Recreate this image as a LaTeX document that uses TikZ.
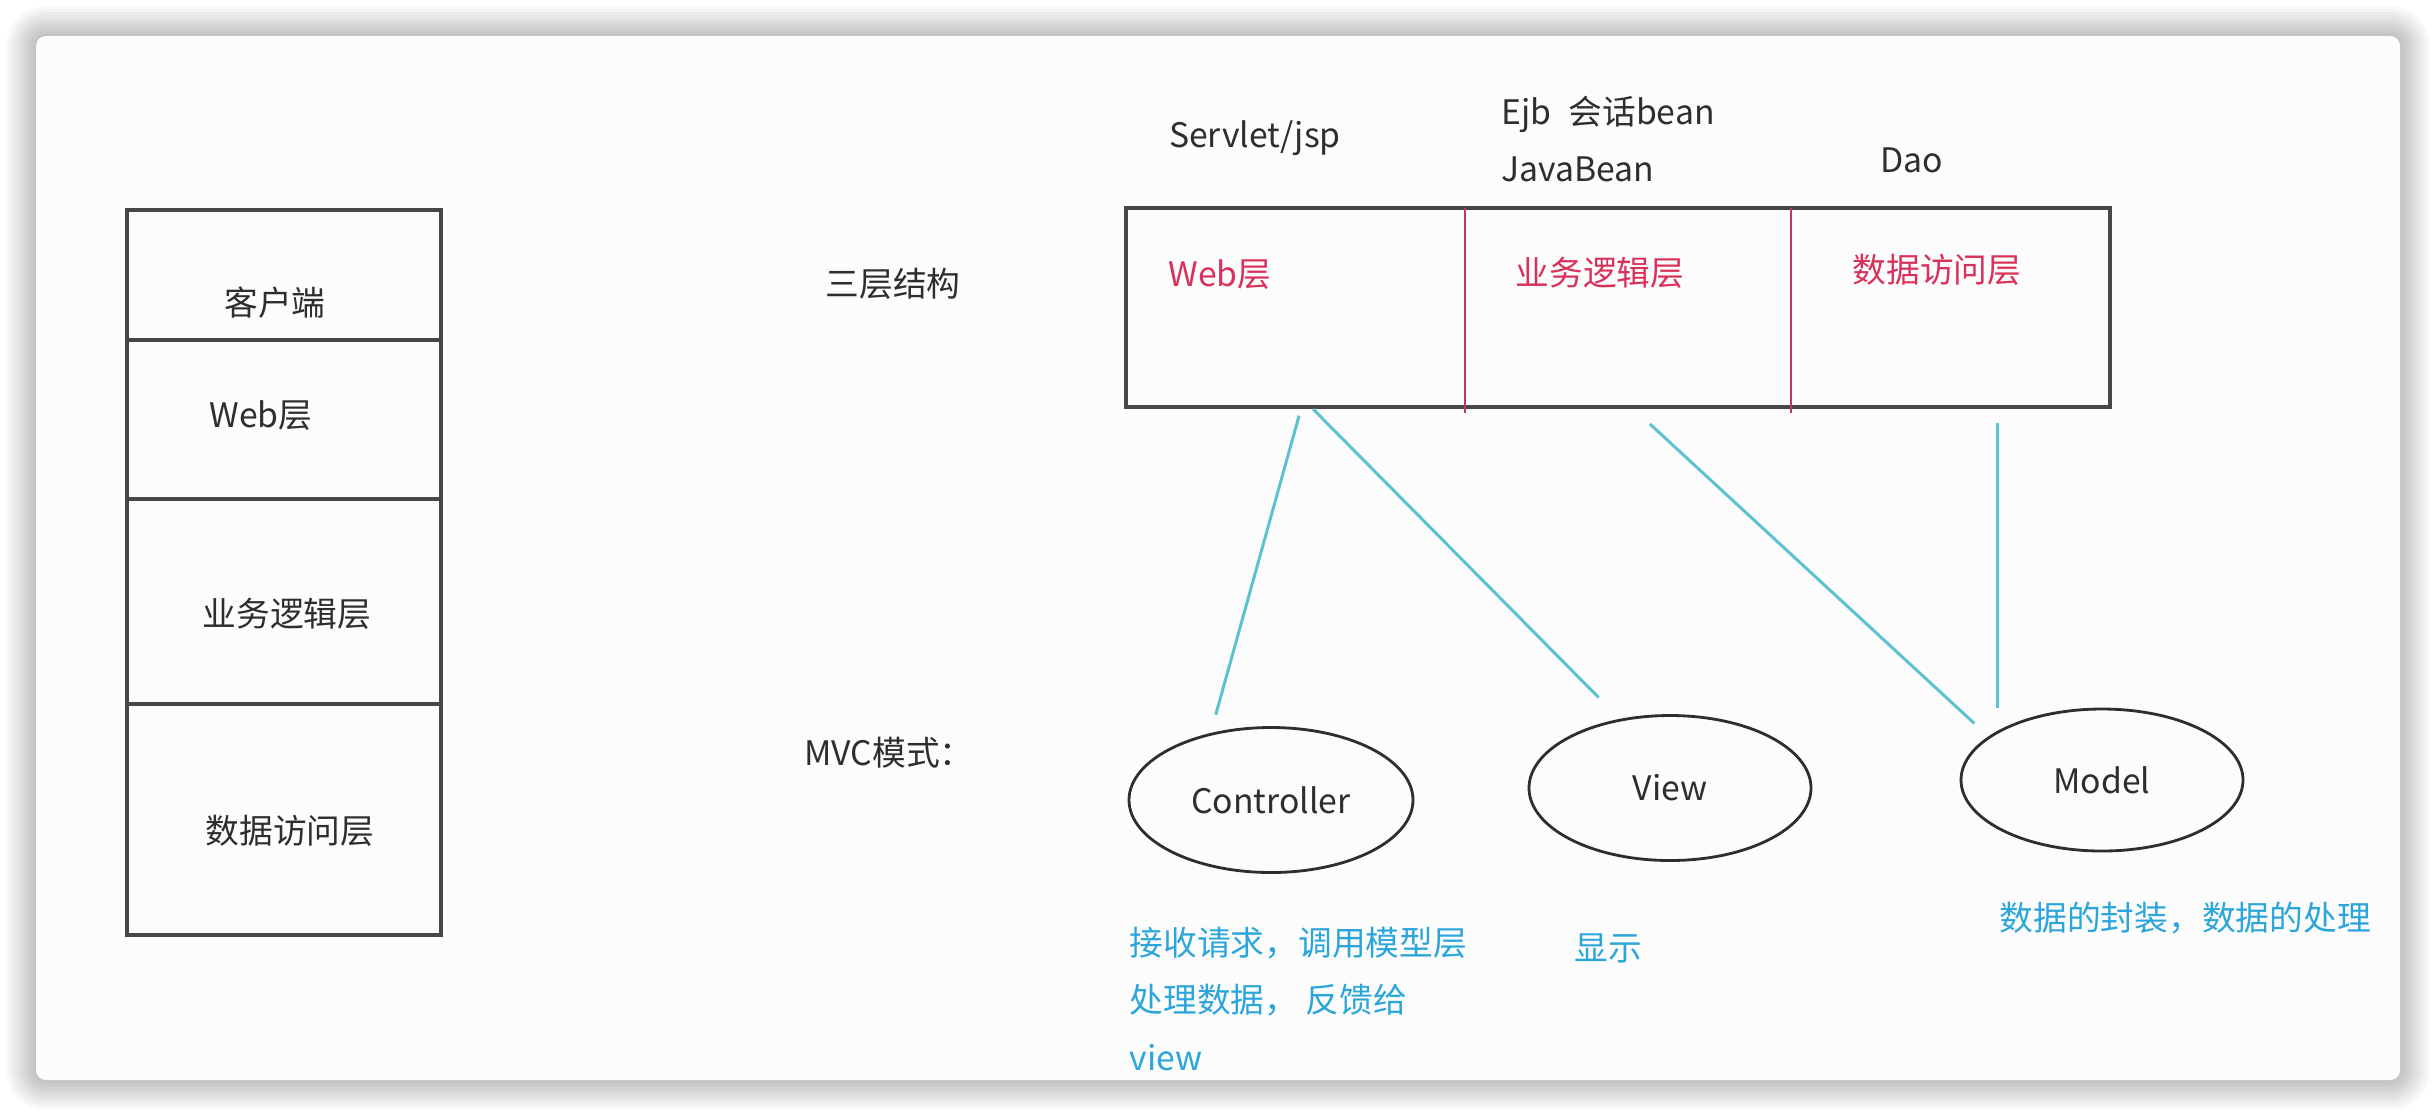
\documentclass[tikz,border=0pt]{standalone}
\usepackage{fontspec}
\setmainfont{Noto Sans CJK SC}
\usetikzlibrary{positioning, calc, shapes.geometric}

\definecolor{ink}{HTML}{2E2E2E}
\definecolor{frame}{HTML}{474747}
\definecolor{layerred}{HTML}{D8325A}
\definecolor{divred}{HTML}{B83A5C}
\definecolor{linkcyan}{HTML}{5CC2D2}
\definecolor{notecyan}{HTML}{2CA6DA}
\definecolor{card}{HTML}{FCFCFC}

\begin{document}
\begin{tikzpicture}[
  font=\fontsize{9.6}{16.4}\selectfont,
  text=ink,
  cell/.style={draw=frame, line width=0.9pt, minimum width=3.14cm,
               inner sep=0pt, outer sep=0pt},
  tiercell/.style={minimum height=1.99cm, inner sep=0pt, outer sep=0pt},
  role/.style={ellipse, draw=ink, line width=0.8pt, inner sep=0pt,
               minimum width=2.84cm, minimum height=1.45cm},
  redtxt/.style={text=layerred},
  note/.style={text=notecyan, align=left, inner sep=0pt, anchor=west},
  link/.style={draw=linkcyan, line width=0.85pt},
]
%% page, shadow and card
\useasboundingbox (0,0) rectangle (24.36,-11.16);
\fill[white] (0,0) rectangle (24.36,-11.16);
\foreach \i [evaluate=\i as \d using 0.03*\i,
             evaluate=\i as \r using 0.1+0.03*\i] in {1,...,10}
  \fill[black, opacity=0.022, rounded corners=\r cm]
    (0.36-\d,-0.36+\d) rectangle (24.00+\d,-10.80-\d);
\fill[card, rounded corners=0.1cm] (0.36,-0.36) rectangle (24.00,-10.80);

%% left stack of layers
\node[cell, minimum height=1.30cm, anchor=north] (client) at (2.84,-2.10) {};
\node[cell, minimum height=1.59cm, below=0pt of client] (web) {};
\node[cell, minimum height=2.05cm, below=0pt of web] (biz) {};
\node[cell, minimum height=2.31cm, below=0pt of biz] (dao) {};

\node (clientT) at (2.75,-3.03) {客户端};
\node (webT)    at (2.61,-4.16) {Web层};
\node (bizT)    at (2.87,-6.14) {业务逻辑层};
\node (daoT)    at (2.90,-8.31) {数据访问层};

%% row labels
\node (tierT) at (8.93,-2.84) {三层结构};
\node (mvcT)  at (8.89,-7.53) {MVC模式：};

%% three-tier box
\node[tiercell, minimum width=3.39cm, anchor=north west] (webTier) at (11.26,-2.08) {};
\node[tiercell, minimum width=3.26cm, right=0pt of webTier] (bizTier) {};
\node[tiercell, minimum width=3.19cm, right=0pt of bizTier] (daoTier) {};
\draw[frame, line width=0.9pt] (webTier.north west) rectangle (daoTier.south east);
\draw[divred, line width=0.7pt] (webTier.north east) -- ([yshift=-0.06cm]webTier.south east);
\draw[divred, line width=0.7pt] (bizTier.north east) -- ([yshift=-0.06cm]bizTier.south east);

\node[redtxt] (webR) at (12.20,-2.75) {Web层};
\node[redtxt] (bizR) at (16.00,-2.73) {业务逻辑层};
\node[redtxt] (daoR) at (19.37,-2.70) {数据访问层};

%% technologies
\node (servlet) at (12.55,-1.38) {Servlet/jsp};
\node[anchor=west, align=left, inner sep=0pt] (ejb) at (15.01,-1.39)
  {Ejb\hspace{0.5em}会话bean\\JavaBean};
\node (daoTech) at (19.12,-1.60) {Dao};

%% MVC roles
\node[role] (ctrl)  at (12.71,-8.00) {Controller};
\node[role, minimum width=2.82cm] (view)  at (16.70,-7.88) {View};
\node[role, minimum width=2.82cm, minimum height=1.42cm] (model) at (21.02,-7.80) {Model};

\draw[link, shorten <=0.09cm, shorten >=0.19cm] ([xshift=0.06cm]webTier.south) -- (ctrl.132);
\draw[link, shorten <=0.03cm, shorten >=0.30cm] ([xshift=0.155cm]webTier.south) -- (view.126);
\draw[link, shorten <=0.25cm, shorten >=0.19cm] ([xshift=0.035cm]bizTier.south) -- (model.159);
\draw[link, shorten <=0.16cm, shorten >=0.23cm] (model.155 |- daoTier.south) -- (model.155);

%% notes
\node[note] (ctrlNote)  at (11.29,-9.99) {接收请求，调用模型层\\处理数据， 反馈给\\view};
\node[note] (viewNote)  at (15.74,-9.48) {显示};
\node[note] (modelNote) at (19.99,-9.18) {数据的封装，数据的处理};
\end{tikzpicture}
\end{document}
